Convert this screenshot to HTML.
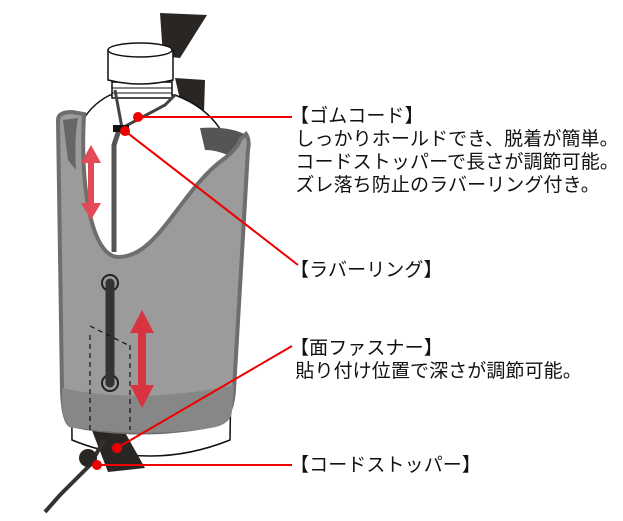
<!DOCTYPE html>
<html><head><meta charset="utf-8"><style>
body{margin:0;width:623px;height:521px;background:#fff;overflow:hidden;position:relative;font-family:"Liberation Sans","Noto Sans CJK JP",sans-serif;}
.t{position:absolute;font-size:19px;line-height:23px;color:#111;white-space:nowrap;letter-spacing:0.1px;}
svg{position:absolute;left:0;top:0;}
</style></head><body>
<svg width="623" height="521" viewBox="0 0 623 521">
<!-- strap top -->
<polygon points="160,13 207,15 180,58 163,56" fill="#2a2624"/>
<polygon points="175,78 205,80 204,112 182,108" fill="#2a2624"/>
<!-- bottle body -->
<path d="M110,95 C80,110 70,140 70,180 L72,440 Q150,472 230,440 L234,180 C234,140 215,110 175,95 Z" fill="#fff" stroke="#111" stroke-width="1.5"/>
<!-- neck & cap -->
<rect x="112" y="82" width="60" height="16" fill="#fff" stroke="#111" stroke-width="1.5"/>
<line x1="112" y1="88" x2="172" y2="88" stroke="#111"/>
<line x1="112" y1="93" x2="172" y2="93" stroke="#111"/>
<path d="M108,50 Q140,40 173,50 L173,80 Q140,88 108,80 Z" fill="#fff" stroke="#111" stroke-width="1.5"/>
<ellipse cx="140" cy="50" rx="32" ry="7" fill="#fff" stroke="#111" stroke-width="1.5"/>
<!-- bottom strap -->
<polygon points="88,420 118,420 145,468 108,472" fill="#2a2624"/>
<!-- back rim inner -->
<path d="M200,128 Q230,126 246,135 L238,160 Q220,150 205,150 Z" fill="#555"/>
<!-- sleeve -->
<path d="M58,120 Q58,112 72,112 L84,114 C80,190 92,256 118,257 C158,258 180,190 225,158 Q238,148 240,140 L246,134 Q250,140 248,150 L234,390 Q232,420 215,425 Q140,440 70,425 Q63,420 62,390 Z" fill="#9b9b9b" stroke="#6e6e6e" stroke-width="4"/>
<path d="M63,120 L78,118 Q74,140 76,170 L68,160 Z" fill="#666"/>
<path d="M62,388 Q140,405 234,385 L232,410 Q232,425 210,428 Q140,438 70,427 Q63,420 62,405 Z" fill="#878787"/>
<!-- cord -->
<path d="M119,130 L114,145 L114,252" stroke="#555" stroke-width="5" fill="none"/>
<path d="M115,90 L122,128 L165,105 L175,95" stroke="#444" stroke-width="3" fill="none"/>
<rect x="113" y="125" width="16" height="7" fill="#111"/>
<circle cx="110" cy="283" r="8" fill="none" stroke="#222" stroke-width="2"/>
<circle cx="110" cy="383" r="8" fill="none" stroke="#222" stroke-width="2"/>
<line x1="110" y1="283" x2="110" y2="383" stroke="#333" stroke-width="9" stroke-linecap="round"/>
<path d="M90,335 L90,430 M130,345 L130,430 M90,326 L128,345" stroke="#111" stroke-width="1.2" stroke-dasharray="5,4" fill="none"/>
<path d="M104,440 L90,465 L60,495 L45,512" stroke="#333" stroke-width="4" fill="none"/>
<circle cx="88" cy="458" r="9" fill="#2a2624"/>
<!-- red arrows -->
<g fill="#e24a55"><polygon points="91,145 101,163 94,163 94,203 101,203 91,220 81,203 88,203 88,163 81,163"/></g>
<g fill="#d8343f"><polygon points="142,310 154,333 146,333 146,385 154,385 142,408 130,385 138,385 138,333 130,333"/></g>
<!-- leader lines -->
<g stroke="#e00" stroke-width="2" fill="none">
<line x1="138" y1="117" x2="292" y2="117"/>
<line x1="125" y1="131" x2="298" y2="265"/>
<line x1="117" y1="448" x2="292" y2="346"/>
<line x1="97" y1="465" x2="292" y2="465"/>
</g>
<g fill="#e00"><circle cx="138" cy="117" r="5"/><circle cx="125" cy="131" r="5"/><circle cx="117" cy="448" r="5"/><circle cx="97" cy="465" r="5"/></g>
</svg>
<div class="t" style="left:290px;top:105px;">【ゴムコード】<br>&nbsp;しっかりホールドでき、脱着が簡単。<br>&nbsp;コードストッパーで長さが調節可能。<br>&nbsp;ズレ落ち防止のラバーリング付き。</div>
<div class="t" style="left:290px;top:259px;">【ラバーリング】</div>
<div class="t" style="left:290px;top:337px;">【面ファスナー】<br>&nbsp;貼り付け位置で深さが調節可能。</div>
<div class="t" style="left:290px;top:454px;">【コードストッパー】</div>
</body></html>
